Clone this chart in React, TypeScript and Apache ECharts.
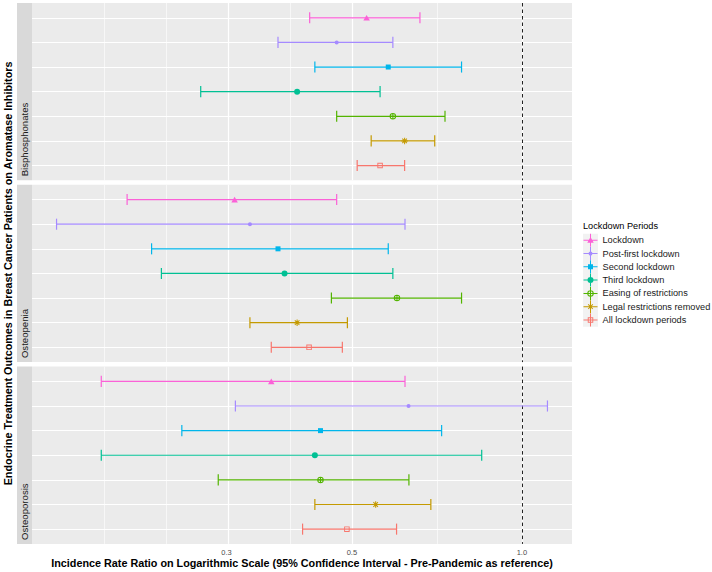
import React, { useEffect, useRef } from "react";
import * as echarts from "echarts";

// ---------- data ----------
const periods = [
  "Lockdown",
  "Post-first lockdown",
  "Second lockdown",
  "Third lockdown",
  "Easing of restrictions",
  "Legal restrictions removed",
  "All lockdown periods",
];
const periodColors = ["#FB61D7", "#A58AFF", "#00B6EB", "#00C094", "#53B400", "#C49A00", "#F8766D"];
const periodShapes = ["triangle", "bullet", "square", "circle", "circlePlus", "asterisk", "openSquare"];

const outcomes = ["Bisphosphonates", "Osteopenia", "Osteoporosis"];

const bisphosphonatesEstimate = [0.531, 0.470, 0.580, 0.400, 0.591, 0.620, 0.561];
const bisphosphonatesLower = [0.421, 0.370, 0.430, 0.270, 0.470, 0.541, 0.511];
const bisphosphonatesUpper = [0.660, 0.591, 0.782, 0.561, 0.731, 0.701, 0.620];

const osteopeniaEstimate = [0.310, 0.330, 0.370, 0.380, 0.601, 0.400, 0.420];
const osteopeniaLower = [0.200, 0.150, 0.221, 0.230, 0.460, 0.330, 0.360];
const osteopeniaUpper = [0.470, 0.621, 0.580, 0.591, 0.782, 0.491, 0.481];

const osteoporosisEstimate = [0.360, 0.630, 0.440, 0.430, 0.440, 0.551, 0.490];
const osteoporosisLower = [0.180, 0.311, 0.250, 0.180, 0.290, 0.430, 0.409];
const osteoporosisUpper = [0.621, 1.110, 0.721, 0.849, 0.631, 0.690, 0.600];

const tickValues = [0.3, 0.5, 1.0];
const tickLabels = ["0.3", "0.5", "1.0"];
const referenceValue = 1.0;

const xTitle = "Incidence Rate Ratio on Logarithmic Scale (95% Confidence Interval - Pre-Pandemic as reference)";
const yTitle = "Endocrine Treatment Outcomes in Breast Cancer Patients on Aromatase Inhibitors";
const legendTitle = "Lockdown Periods";

// ---------- layout / style ----------
const FONT = "Liberation Sans, Arial, Helvetica, sans-serif";
const panelTops = [3, 184.8, 366.6];
const panelHeight = 177.3;
const panelLeft = 32;
const panelRight = 140; // 712 - 572

const lg = (v: number) => Math.log10(v);

function shapePath(kind: string, cx: number, cy: number, s: number): string {
  const r = s / 2;
  const circ = (rr: number, cw: boolean) =>
    cw
      ? `M${cx},${cy - rr} A${rr},${rr} 0 1,1 ${cx},${cy + rr} A${rr},${rr} 0 1,1 ${cx},${cy - rr} Z `
      : `M${cx},${cy - rr} A${rr},${rr} 0 1,0 ${cx},${cy + rr} A${rr},${rr} 0 1,0 ${cx},${cy - rr} Z `;
  const sq = (h: number, cw: boolean) =>
    cw
      ? `M${cx - h},${cy - h} h${2 * h} v${2 * h} h${-2 * h} Z `
      : `M${cx - h},${cy - h} v${2 * h} h${2 * h} v${-2 * h} Z `;
  const hbar = (len: number, t: number) => `M${cx - len / 2},${cy - t / 2} h${len} v${t} h${-len} Z `;
  const vbar = (len: number, t: number) => `M${cx - t / 2},${cy - len / 2} h${t} v${len} h${-t} Z `;
  switch (kind) {
    case "triangle":
      return `M${cx},${cy - r} L${cx + r},${cy + r * 0.75} L${cx - r},${cy + r * 0.75} Z `;
    case "bullet":
    case "circle":
      return circ(r, true);
    case "square":
      return sq(r, true);
    case "openSquare":
      return sq(r, true) + sq(r - s * 0.17, false);
    case "circlePlus": {
      const t = s * 0.16;
      return circ(r, true) + circ(r - t, false) + hbar(s - t, t) + vbar(s - t, t);
    }
    case "asterisk": {
      const t = s * 0.16;
      const d = r * 0.7071;
      const o = (t / 2) * 0.7071;
      const diag1 = `M${cx - d + o},${cy - d - o} L${cx + d + o},${cy + d - o} L${cx + d - o},${cy + d + o} L${cx - d - o},${cy - d + o} Z `;
      const diag2 = `M${cx + d + o},${cy - d + o} L${cx - d + o},${cy + d + o} L${cx - d - o},${cy + d - o} L${cx + d - o},${cy - d - o} Z `;
      return hbar(s, t) + vbar(s, t) + diag1 + diag2;
    }
  }
  return circ(r, true);
}

const shapeSize: Record<string, number> = {
  triangle: 6.5,
  bullet: 4,
  square: 5,
  circle: 6,
  circlePlus: 6.5,
  asterisk: 6.5,
  openSquare: 5.5,
};

function legendIcon(k: number): string {
  const W = 14;
  const H = 13;
  const cross = `M0,${H / 2 - 0.5} h${W} v1 h${-W} Z M${W / 2 - 0.5},0 h1 v${H} h-1 Z `;
  const kind = periodShapes[k];
  return "path://" + cross + shapePath(kind, W / 2, H / 2, shapeSize[kind]);
}

function buildOption() {
  const panels = [
    { est: bisphosphonatesEstimate, low: bisphosphonatesLower, high: bisphosphonatesUpper },
    { est: osteopeniaEstimate, low: osteopeniaLower, high: osteopeniaUpper },
    { est: osteoporosisEstimate, low: osteoporosisLower, high: osteoporosisUpper },
  ];
  const all = panels.flatMap((p) => [...p.low, ...p.high, ...p.est]).map(lg);
  const dMin = Math.min(...all);
  const dMax = Math.max(...all);
  const span = dMax - dMin;
  const xMin = dMin - span * 0.05;
  const xMax = dMax + span * 0.05;

  const tickLogs = tickValues.map(lg);
  // ggplot-style minor breaks
  const b = [...tickLogs];
  const bd = b[1] - b[0];
  if (xMin < b[0]) b.unshift(b[0] - bd);
  if (xMax > b[b.length - 1]) b.push(b[b.length - 1] + bd);
  const minorLogs: number[] = [];
  for (let i = 0; i < b.length - 1; i++) minorLogs.push((b[i] + b[i + 1]) / 2);
  b.forEach((v) => {
    if (!tickLogs.some((t) => Math.abs(t - v) < 1e-9)) minorLogs.push(v);
  });
  const minorIn = minorLogs.filter((v) => v > xMin && v < xMax);

  const grids: any[] = [];
  const xAxes: any[] = [];
  const yAxes: any[] = [];
  const series: any[] = [];
  const graphics: any[] = [];

  panels.forEach((p, pi) => {
    grids.push({
      left: panelLeft,
      right: panelRight,
      top: panelTops[pi],
      height: panelHeight,
      show: true,
      backgroundColor: "#EBEBEB",
      borderWidth: 0,
      containLabel: false,
      outerBoundsMode: "none",
    });
    xAxes.push({
      type: "value",
      gridIndex: pi,
      min: xMin,
      max: xMax,
      axisLine: { show: false },
      axisTick: { show: false },
      splitLine: { show: false },
      axisLabel: {
        show: pi === 2,
        customValues: tickLogs,
        formatter: (v: number) => {
          const i = tickLogs.findIndex((t) => Math.abs(t - v) < 1e-6);
          return i >= 0 ? tickLabels[i] : "";
        },
        margin: 5,
        fontSize: 7.5,
        color: "#4D4D4D",
        fontFamily: FONT,
      },
      name: pi === 2 ? xTitle : "",
      nameLocation: "middle",
      nameGap: 11.5,
      nameTextStyle: { fontSize: 10.8, fontWeight: "bold", color: "#000", fontFamily: FONT },
    });
    yAxes.push({
      type: "value",
      gridIndex: pi,
      min: -0.6,
      max: periods.length - 0.4,
      inverse: true,
      axisLine: { show: false },
      axisTick: { show: false },
      axisLabel: { show: false },
      splitLine: { show: false },
      name: pi === 1 ? yTitle : "",
      nameLocation: "middle",
      nameRotate: 90,
      nameGap: 19,
      nameTextStyle: { fontSize: 10.8, fontWeight: "bold", color: "#000", fontFamily: FONT },
    });

    // gridlines host
    series.push({
      type: "scatter",
      name: "grid-" + pi,
      xAxisIndex: pi,
      yAxisIndex: pi,
      data: [],
      silent: true,
      markLine: {
        silent: true,
        z: 1,
        symbol: ["none", "none"],
        label: { show: false },
        emphasis: { disabled: true },
        animation: false,
        data: [
          ...minorIn.map((v) => ({ xAxis: v, lineStyle: { color: "#FFFFFF", width: 0.6, type: "solid" } })),
          ...tickLogs.map((v) => ({ xAxis: v, lineStyle: { color: "#FFFFFF", width: 1.2, type: "solid" } })),
          ...periods.map((_, k) => ({ yAxis: k, lineStyle: { color: "#FFFFFF", width: 1.2, type: "solid" } })),
        ],
      },
    });
    // reference line
    series.push({
      type: "scatter",
      name: "ref-" + pi,
      xAxisIndex: pi,
      yAxisIndex: pi,
      data: [],
      silent: true,
      markLine: {
        silent: true,
        z: 2,
        symbol: ["none", "none"],
        label: { show: false },
        emphasis: { disabled: true },
        animation: false,
        data: [{ xAxis: lg(referenceValue), lineStyle: { color: "#222222", width: 1, type: [3.5, 3] } }],
      },
    });

    periods.forEach((name, k) => {
      const color = periodColors[k];
      series.push({
        type: "custom",
        name,
        xAxisIndex: pi,
        yAxisIndex: pi,
        z: 3,
        silent: true,
        itemStyle: { color },
        encode: { x: [0, 1], y: 2 },
        data: [[lg(p.low[k]), lg(p.high[k]), k]],
        renderItem: (params: any, api: any) => {
          const lo = api.coord([api.value(0), api.value(2)]);
          const hi = api.coord([api.value(1), api.value(2)]);
          const h = api.size([0, 1])[1] * 0.225;
          const style = { stroke: color, lineWidth: 1.2, fill: "none" };
          return {
            type: "group",
            children: [
              { type: "line", shape: { x1: lo[0], y1: lo[1], x2: hi[0], y2: hi[1] }, style },
              { type: "line", shape: { x1: lo[0], y1: lo[1] - h, x2: lo[0], y2: lo[1] + h }, style },
              { type: "line", shape: { x1: hi[0], y1: hi[1] - h, x2: hi[0], y2: hi[1] + h }, style },
            ],
          };
        },
      });
      const kind = periodShapes[k];
      series.push({
        type: "scatter",
        name,
        xAxisIndex: pi,
        yAxisIndex: pi,
        z: 4,
        silent: true,
        symbol: "path://" + shapePath(kind, 5, 5, 10),
        symbolKeepAspect: true,
        symbolSize: shapeSize[kind],
        itemStyle: { color, opacity: 1, borderWidth: 0 },
        data: [[lg(p.est[k]), k]],
      });
    });

    // strip
    graphics.push({
      type: "rect",
      shape: { x: 17, y: panelTops[pi], width: 15, height: panelHeight },
      style: { fill: "#D9D9D9" },
      z: 0,
    });
    graphics.push({
      type: "text",
      x: 24.5,
      y: panelTops[pi] + panelHeight - 4,
      rotation: Math.PI / 2,
      style: {
        text: outcomes[pi],
        fontSize: 9.6,
        fontFamily: FONT,
        fill: "#1A1A1A",
        align: "left",
        verticalAlign: "middle",
      },
      z: 1,
    });
  });

  // legend
  graphics.push({
    type: "text",
    x: 583,
    y: 225.7,
    style: { text: legendTitle, fontSize: 9.2, fontFamily: FONT, fill: "#000", align: "left", verticalAlign: "middle" },
  });
  graphics.push({
    type: "rect",
    shape: { x: 583, y: 233.7, width: 15, height: 93 },
    style: { fill: "#F2F2F2" },
    z: 0,
  });

  return {
    animation: false,
    backgroundColor: "#FFFFFF",
    grid: grids,
    xAxis: xAxes,
    yAxis: yAxes,
    legend: {
      orient: "vertical",
      left: 583.5,
      top: 233.7,
      padding: 0,
      itemWidth: 14,
      itemHeight: 13,
      itemGap: 0.3,
      selectedMode: false,
      textStyle: { fontSize: 9.2, color: "#1A1A1A", fontFamily: FONT },
      itemStyle: { borderWidth: 0 },
      data: periods.map((n, k) => ({ name: n, icon: legendIcon(k), itemStyle: { color: periodColors[k], borderWidth: 0 } })),
    },
    graphic: graphics,
    series,
  };
}

export default function App() {
  const ref = useRef<HTMLDivElement>(null);
  useEffect(() => {
    if (!ref.current) return;
    const chart = echarts.init(ref.current, undefined, { renderer: "svg" });
    chart.setOption(buildOption() as any);
    return () => chart.dispose();
  }, []);
  return <div ref={ref} style={{ position: "absolute", left: 0, top: 0, width: 712, height: 572 }} />;
}
